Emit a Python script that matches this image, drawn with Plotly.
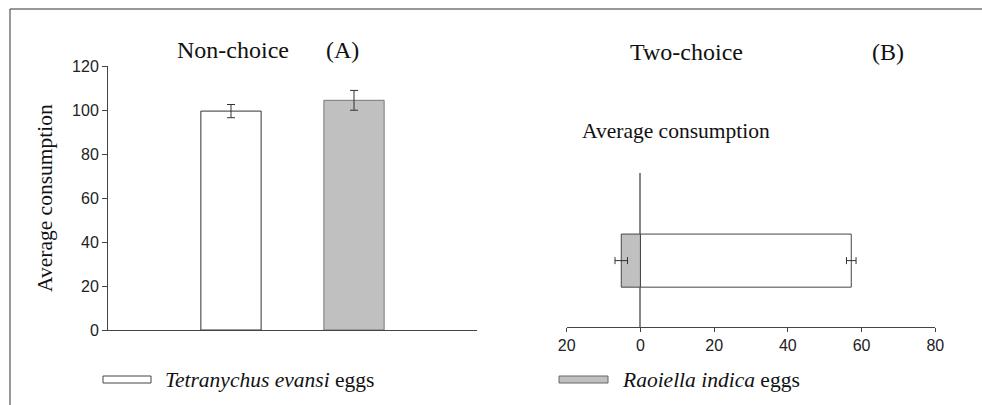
import plotly.graph_objects as go

W, H = 982, 405

# Data
a_positions = [1, 2]
a_values = [99.5, 104.4]
a_errors = [3.0, 4.5]
b_values_te = [57.2]   # Tetranychus evansi eggs
b_errors_te = [1.3]
b_values_ri = [-5.2]   # Raoiella indica eggs (plotted to the left)
b_errors_ri = [1.7]
b_ticks = [-20, 0, 20, 40, 60, 80]
b_ticktext = ["20", "0", "20", "40", "60", "80"]

serif = "Liberation Serif, Times New Roman, serif"
sans = "Liberation Sans, Arial, sans-serif"
white_col = "#ffffff"
grey_col = "#c0c0c0"

def px(x):
    return x / W

def py(y):
    return 1 - y / H

fig = go.Figure()

# Panel A
fig.add_trace(go.Bar(
    x=[a_positions[0]], y=[a_values[0]], width=0.49,
    marker=dict(color=white_col, line=dict(color="#333333", width=1)),
    error_y=dict(type="data", array=[a_errors[0]], color="#333333", thickness=1, width=4),
    xaxis="x", yaxis="y", showlegend=False))
fig.add_trace(go.Bar(
    x=[a_positions[1]], y=[a_values[1]], width=0.49,
    marker=dict(color=grey_col, line=dict(color="#777777", width=1)),
    error_y=dict(type="data", array=[a_errors[1]], color="#333333", thickness=1, width=4),
    xaxis="x", yaxis="y", showlegend=False))

# Panel B
fig.add_trace(go.Bar(
    x=b_values_te, y=[0], orientation="h", width=1,
    marker=dict(color=white_col, line=dict(color="#444444", width=1)),
    error_x=dict(type="data", array=b_errors_te, color="#333333", thickness=1, width=3.5),
    xaxis="x2", yaxis="y2", showlegend=False))
fig.add_trace(go.Bar(
    x=b_values_ri, y=[0], orientation="h", width=1,
    marker=dict(color=grey_col, line=dict(color="#444444", width=1)),
    error_x=dict(type="data", array=b_errors_ri, color="#333333", thickness=1, width=3.5),
    xaxis="x2", yaxis="y2", showlegend=False))

tickfont = dict(family=sans, size=16, color="#222222")

fig.update_layout(
    template="none",
    width=W, height=H,
    margin=dict(l=0, r=0, t=0, b=0, autoexpand=False),
    paper_bgcolor="white", plot_bgcolor="white",
    barmode="overlay",
    font=dict(family=sans, size=16, color="#222222"),
    xaxis=dict(domain=[px(108), px(477)], range=[0, 3], showticklabels=False,
               ticks="", showgrid=False, zeroline=False, showline=True, automargin=False,
               linecolor="#444444", linewidth=1, anchor="y", fixedrange=True),
    yaxis=dict(domain=[py(330), py(66)], range=[0, 120], dtick=20, ticks="outside",
               ticklen=5, tickcolor="#444444", showgrid=False, zeroline=False,
               showline=True, linecolor="#444444", linewidth=1, anchor="x", automargin=False,
               tickfont=tickfont),
    xaxis2=dict(domain=[px(566.7), px(935.3)], range=[-20, 80], tickvals=b_ticks,
                ticktext=b_ticktext, ticks="outside", ticklen=4, tickcolor="#444444",
                showgrid=False, zeroline=True, zerolinecolor="#888888", zerolinewidth=1.5,
                showline=True, linecolor="#444444", linewidth=1, anchor="y2", automargin=False,
                tickfont=tickfont),
    yaxis2=dict(domain=[py(327), py(173)], range=[-1.25, 1.65], showticklabels=False,
                ticks="", showgrid=False, zeroline=False, showline=False, anchor="x2",
                automargin=False),
)

shapes = [
    dict(type="line", xref="paper", yref="paper", x0=px(10), x1=1, y0=py(9), y1=py(9),
         line=dict(color="#333333", width=1)),
    dict(type="line", xref="paper", yref="paper", x0=px(10), x1=px(10), y0=0, y1=py(9),
         line=dict(color="#333333", width=1)),
    dict(type="rect", xref="paper", yref="paper", x0=px(103), x1=px(151), y0=py(383), y1=py(376),
         fillcolor=white_col, line=dict(color="#444444", width=1)),
    dict(type="rect", xref="paper", yref="paper", x0=px(559), x1=px(608), y0=py(383), y1=py(376),
         fillcolor=grey_col, line=dict(color="#666666", width=1)),
]
fig.update_layout(shapes=shapes)

def ann(text, x, y, size, xanchor="center", angle=0):
    return dict(text=text, x=px(x), y=py(y), xref="paper", yref="paper",
                xanchor=xanchor, yanchor="middle", showarrow=False, textangle=angle,
                font=dict(family=serif, size=size, color="#111111"))

fig.update_layout(annotations=[
    ann("Non-choice", 233, 50, 24),
    ann("(A)", 342, 50, 24),
    ann("Two-choice", 686, 52, 24),
    ann("(B)", 888, 52, 24),
    ann("Average consumption", 45, 198, 21.5, angle=-90),
    ann("Average consumption", 676, 131, 21.5),
    ann("<i>Tetranychus evansi</i> eggs", 163, 380, 21.5, xanchor="left"),
    ann("<i>Raoiella indica</i> eggs", 620, 380, 21.5, xanchor="left"),
])

fig.write_html("out.html", config={"displayModeBar": False},
               post_script="document.body.style.margin='0';document.body.style.overflow='hidden';")
